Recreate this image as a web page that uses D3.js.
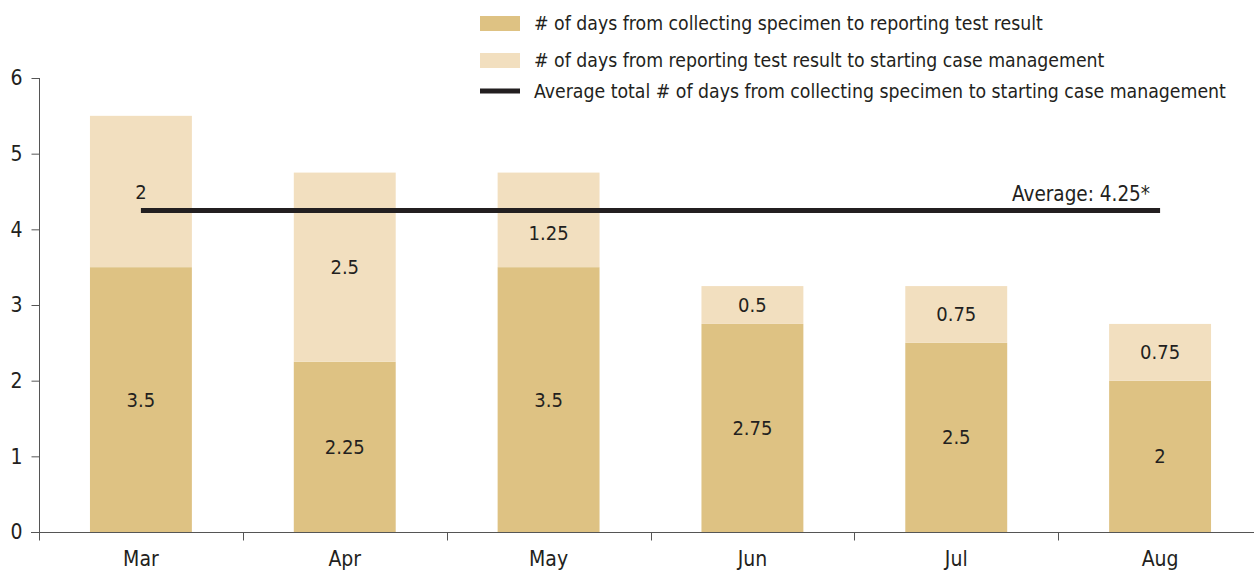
<!DOCTYPE html>
<html>
<head>
<meta charset="utf-8">
<script src="https://cdn.jsdelivr.net/npm/d3@7"></script>
<style>
  body { margin: 0; background: #fff; }
  svg text { font-family: "Liberation Sans Narrow", "DejaVu Sans Condensed", "Roboto", sans-serif; fill: #231f20; }
</style>
</head>
<body>
<div id="content"></div>
<script>
var months = ["Mar", "Apr", "May", "Jun", "Jul", "Aug"];
var toResult = [3.5, 2.25, 3.5, 2.75, 2.5, 2];
var toCase = [2, 2.5, 1.25, 0.5, 0.75, 0.75];
var average = 4.25;
var yTicks = [0, 1, 2, 3, 4, 5, 6];
var legendLabels = [
  "# of days from collecting specimen to reporting test result",
  "# of days from reporting test result to starting case management",
  "Average total # of days from collecting specimen to starting case management"
];

var width = 1254, height = 571;
var dark = "#dec283", light = "#f2dfbf", ink = "#231f20";

var svg = d3.select("#content").append("svg")
  .attr("width", width)
  .attr("height", height);

var x = d3.scaleBand().domain(months).range([39, 1262]).padding(0);
var y = d3.scaleLinear().domain([0, 6]).range([532, 78]);
var barW = x.bandwidth() * 0.5;

// bars
var g = svg.append("g");
months.forEach(function(m, i) {
  var cx = x(m) + x.bandwidth() / 2;
  g.append("rect")
    .attr("x", cx - barW / 2).attr("width", barW)
    .attr("y", y(toResult[i])).attr("height", y(0) - y(toResult[i]))
    .attr("fill", dark);
  g.append("rect")
    .attr("x", cx - barW / 2).attr("width", barW)
    .attr("y", y(toResult[i] + toCase[i])).attr("height", y(toResult[i]) - y(toResult[i] + toCase[i]))
    .attr("fill", light);
});

// average line
var x0 = x(months[0]) + x.bandwidth() / 2;
var x1 = x(months[months.length - 1]) + x.bandwidth() / 2;
svg.append("line")
  .attr("x1", x0).attr("x2", x1)
  .attr("y1", y(average)).attr("y2", y(average))
  .attr("stroke", ink).attr("stroke-width", 5);
svg.append("text")
  .attr("x", x1 - 10).attr("y", y(average) - 9)
  .attr("text-anchor", "end")
  .attr("font-size", 20.5)
  .text("Average: " + average + "*");

// value labels
months.forEach(function(m, i) {
  var cx = x(m) + x.bandwidth() / 2;
  g.append("text")
    .attr("x", cx).attr("y", y(toResult[i] / 2))
    .attr("dy", "0.35em").attr("text-anchor", "middle")
    .attr("font-size", 20)
    .text(toResult[i]);
  var ty = y(toResult[i] + toCase[i] / 2);
  if (Math.abs(ty - y(average)) < 15) ty = y(average) + 23;
  g.append("text")
    .attr("x", cx).attr("y", ty)
    .attr("dy", "0.35em").attr("text-anchor", "middle")
    .attr("font-size", 20)
    .text(toCase[i]);
});

// y axis
var yAxis = svg.append("g")
  .attr("transform", "translate(39.5,0)")
  .call(d3.axisLeft(y).tickValues(yTicks).tickSize(8).tickPadding(9).tickFormat(d3.format("d")));
yAxis.select(".domain").attr("stroke", "#555").attr("d", "M0," + y(6) + "V" + y(0));
yAxis.selectAll(".tick line").attr("stroke", "#555");
yAxis.selectAll(".tick text").attr("font-size", 21).attr("fill", ink);

// x axis
var xAxis = svg.append("g")
  .attr("transform", "translate(0,532.5)");
xAxis.append("line")
  .attr("x1", 31).attr("x2", width)
  .attr("stroke", "#555");
xAxis.selectAll(".sep")
  .data(months)
  .enter().append("line")
  .attr("class", "sep")
  .attr("x1", function(d) { return Math.round(x(d)) + 0.5; })
  .attr("x2", function(d) { return Math.round(x(d)) + 0.5; })
  .attr("y1", 0).attr("y2", 8)
  .attr("stroke", "#555");
xAxis.selectAll(".lbl")
  .data(months)
  .enter().append("text")
  .attr("class", "lbl")
  .attr("x", function(d) { return x(d) + x.bandwidth() / 2; })
  .attr("y", 33)
  .attr("text-anchor", "middle")
  .attr("font-size", 21)
  .text(function(d) { return d; });

// legend
var legend = svg.append("g").attr("transform", "translate(480,0)");
legend.append("rect").attr("x", 0).attr("y", 16).attr("width", 40).attr("height", 15).attr("fill", dark);
legend.append("rect").attr("x", 0).attr("y", 53).attr("width", 40).attr("height", 15).attr("fill", light);
legend.append("line").attr("x1", 0).attr("x2", 40).attr("y1", 91).attr("y2", 91)
  .attr("stroke", ink).attr("stroke-width", 5);
[23, 60, 91].forEach(function(ly, i) {
  legend.append("text")
    .attr("x", 54).attr("y", ly)
    .attr("dy", "0.35em")
    .attr("font-size", 19.3)
    .text(legendLabels[i]);
});
</script>
</body>
</html>
